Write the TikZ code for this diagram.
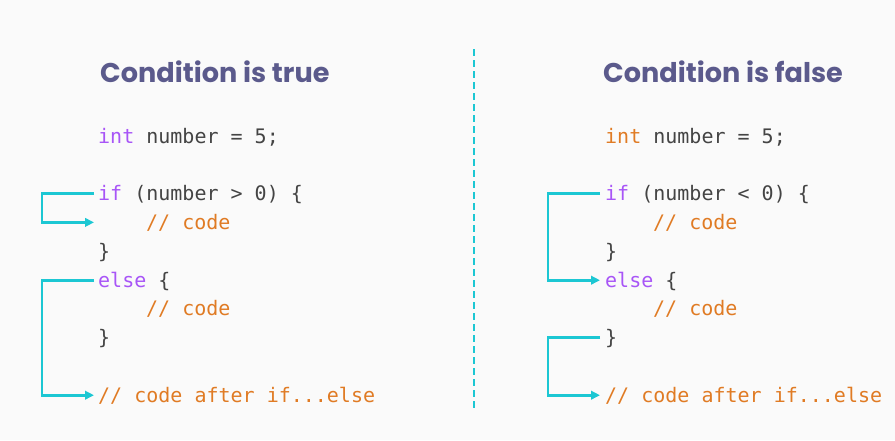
\documentclass[tikz,border=0pt]{standalone}
\usepackage{fontspec}
\setmonofont{DejaVu Sans Mono}
\newfontfamily\titlefont{Poppins}
\usetikzlibrary{arrows.meta}
\definecolor{bg}{HTML}{FAFAFA}
\definecolor{ttl}{HTML}{5B5A8C}
\definecolor{kw}{HTML}{A855F7}
\definecolor{cm}{HTML}{E07B24}
\definecolor{tx}{HTML}{444444}
\definecolor{cy}{HTML}{1CC7D3}
\newcommand{\kwd}[1]{\textcolor{kw}{#1}}
\newcommand{\cmt}[1]{\textcolor{cm}{#1}}
\begin{document}
\begin{tikzpicture}[x=1pt,y=-1pt,
  codeline/.style={anchor=base west,inner sep=0pt,font=\ttfamily\fontsize{20}{24}\selectfont,text=tx},
  titletext/.style={anchor=base west,inner sep=0pt,font=\titlefont\bfseries\fontsize{27.1}{33}\selectfont,text=ttl},
  flow/.style={draw=cy,line width=2.8pt,-{Triangle[length=9pt,width=8.5pt]}},
  divider/.style={draw=cy,line width=2pt,dash pattern=on 7pt off 4pt}
]
\fill[bg] (0,0) rectangle (895,440);
\useasboundingbox (0,0) rectangle (895,440);

% titles
\node[titletext] (t1) at (100,82) {Condition is true};
\node[titletext] (t2) at (603,82) {Condition is false};

% divider
\coordinate (d1) at (474,49);
\coordinate (d2) at (474,408);
\draw[divider] (d1) -- (d2);

% left code
\node[codeline] (l0) at (98,143) {\kwd{int} number = 5;};
\node[codeline] (l2) at (98,200.6) {\kwd{if} (number > 0) \{};
\node[codeline] (l3) at (146,229.4) {\cmt{// code}};
\node[codeline] (l4) at (98,258.2) {\}};
\node[codeline] (l5) at (98,287) {\kwd{else} \{};
\node[codeline] (l6) at (146,315.8) {\cmt{// code}};
\node[codeline] (l7) at (98,344.6) {\}};
\node[codeline] (l9) at (98,402.2) {\cmt{// code after if...else}};

% right code
\node[codeline] (r0) at (605,143) {\cmt{int} number = 5;};
\node[codeline] (r2) at (605,200.6) {\kwd{if} (number < 0) \{};
\node[codeline] (r3) at (653,229.4) {\cmt{// code}};
\node[codeline] (r4) at (605,258.2) {\}};
\node[codeline] (r5) at (605,287) {\kwd{else} \{};
\node[codeline] (r6) at (653,315.8) {\cmt{// code}};
\node[codeline] (r7) at (605,344.6) {\}};
\node[codeline] (r9) at (605,402.2) {\cmt{// code after if...else}};

% left arrows
\coordinate (la1) at (94,193.6);
\coordinate (la2) at (94,222.4);
\coordinate (la3) at (94,280.2);
\coordinate (la4) at (94,395.2);
\draw[flow] (la1) -- (42,193.6) -- (42,222.4) -- (la2);
\draw[flow] (la3) -- (42,280.2) -- (42,395.2) -- (la4);

% right arrows
\coordinate (ra1) at (600,193.6);
\coordinate (ra2) at (600,280.2);
\coordinate (ra3) at (600,337.8);
\coordinate (ra4) at (600,395.2);
\draw[flow] (ra1) -- (548,193.6) -- (548,280.2) -- (ra2);
\draw[flow] (ra3) -- (548,337.8) -- (548,395.2) -- (ra4);
\end{tikzpicture}
\end{document}
